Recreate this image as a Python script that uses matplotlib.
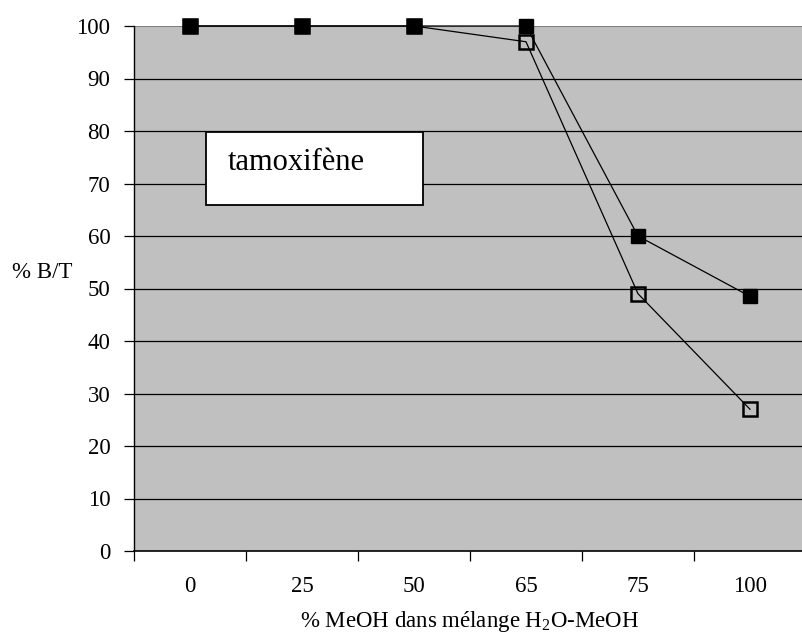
import matplotlib
matplotlib.use("Agg")
import matplotlib.pyplot as plt
from matplotlib.patches import Rectangle

plt.rcParams['font.family'] = ['Liberation Serif', 'DejaVu Serif']
plt.rcParams['mathtext.fontset'] = 'custom'
plt.rcParams['mathtext.rm'] = 'Liberation Serif'
plt.rcParams['mathtext.it'] = 'Liberation Serif:italic'

categories = ['0', '25', '50', '65', '75', '100']
series_filled = [100, 100, 100, 100, 60, 48.5]
series_open = [100, 100, 100, 97, 49, 27]
y_ticks = [0, 10, 20, 30, 40, 50, 60, 70, 80, 90, 100]

FS = 16.5

fig = plt.figure(figsize=(8.02, 6.42), dpi=100)
ax = fig.add_axes([134/802, 91/642, 672/802, 525/642])
ax.set_facecolor('#C0C0C0')
x = list(range(len(categories)))

for yv in y_ticks[1:-1]:
    ax.axhline(yv, color='black', lw=0.9, zorder=1)
ax.axhline(100, color='#808080', lw=1.5, zorder=1)

ax.plot(x, series_open, color='black', lw=0.9, marker='s', markersize=9.5,
        markerfacecolor='none', markeredgecolor='black', markeredgewidth=1.8,
        zorder=3, clip_on=False)
ax.plot(x, series_filled, color='black', lw=0.9, marker='s', markersize=10.5,
        markerfacecolor='black', markeredgecolor='black', zorder=4, clip_on=False)

ax.set_xlim(-0.5, len(categories) - 0.5)
ax.set_ylim(0, 100)
ax.set_yticks(y_ticks)
ax.set_yticklabels([str(v) for v in y_ticks], fontsize=FS)
ax.set_xticks([i - 0.5 for i in range(len(categories) + 1)], minor=False)
ax.set_xticklabels([''] * (len(categories) + 1))
ax.set_xticks(x, minor=True)
ax.set_xticklabels(categories, minor=True, fontsize=FS)
ax.tick_params(axis='x', which='major', direction='out', length=7, width=0.9)
ax.tick_params(axis='x', which='minor', length=0, pad=18)
ax.tick_params(axis='y', direction='out', length=7, width=0.9, pad=10)

for s in ['top', 'right']:
    ax.spines[s].set_visible(False)
ax.spines['left'].set_linewidth(1.0)
ax.spines['bottom'].set_linewidth(1.2)

fig.text(12/802, 1 - 272/642, '% B/T', fontsize=FS, ha='left', va='center')
fig.text(470/802, 1 - 622/642, '% MeOH dans mélange H$_2$O-MeOH', fontsize=FS,
         ha='center', va='center')

box = Rectangle((206/802, 1 - 205/642), (423-206)/802, (205-132)/642,
                transform=fig.transFigure, facecolor='white', edgecolor='black',
                lw=1.3, zorder=5)
fig.patches.append(box)
fig.text(228/802, 1 - 163/642, 'tamoxifène', fontsize=22, ha='left', va='center', zorder=6)

fig.savefig('out.png', dpi=100)
